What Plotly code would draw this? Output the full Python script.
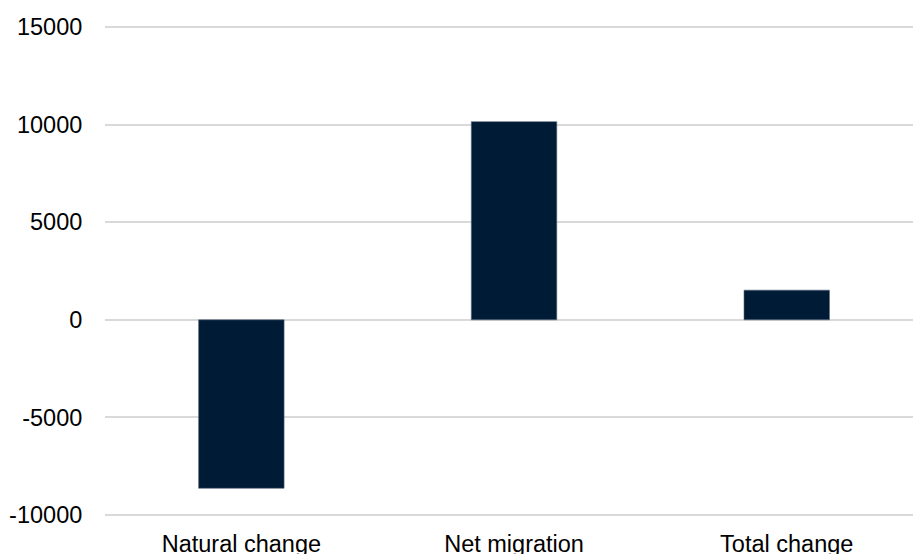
import plotly.graph_objects as go

categories = ["Natural change", "Net migration", "Total change"]
values = [-8630, 10150, 1520]
y_ticks = [-10000, -5000, 0, 5000, 10000, 15000]

fig = go.Figure(
    go.Bar(
        x=categories,
        y=values,
        marker=dict(color="#001b36", line=dict(color="#5a6a7e", width=0.6)),
        width=0.3135,
    )
)

fig.update_layout(
    width=913,
    height=554,
    margin=dict(l=105, r=0, t=25, b=37),
    paper_bgcolor="white",
    plot_bgcolor="white",
    showlegend=False,
    font=dict(family="Liberation Sans, Arial, sans-serif", size=23.5, color="#000000"),
)
fig.update_xaxes(
    range=[-0.5, 2.463],
    showgrid=False,
    showline=False,
    ticks="outside",
    ticklen=6,
    tickcolor="rgba(0,0,0,0)",
    tickfont=dict(size=23.5),
    automargin=False,
)
fig.update_yaxes(
    range=[-10100, 15100],
    tickvals=y_ticks,
    ticktext=[str(v) for v in y_ticks],
    showgrid=True,
    gridcolor="#d9d9d9",
    gridwidth=1.8,
    zeroline=False,
    showline=False,
    ticks="outside",
    ticklen=17,
    tickcolor="rgba(0,0,0,0)",
    tickfont=dict(size=23.5),
    automargin=False,
)

fig.write_html("out.html")
